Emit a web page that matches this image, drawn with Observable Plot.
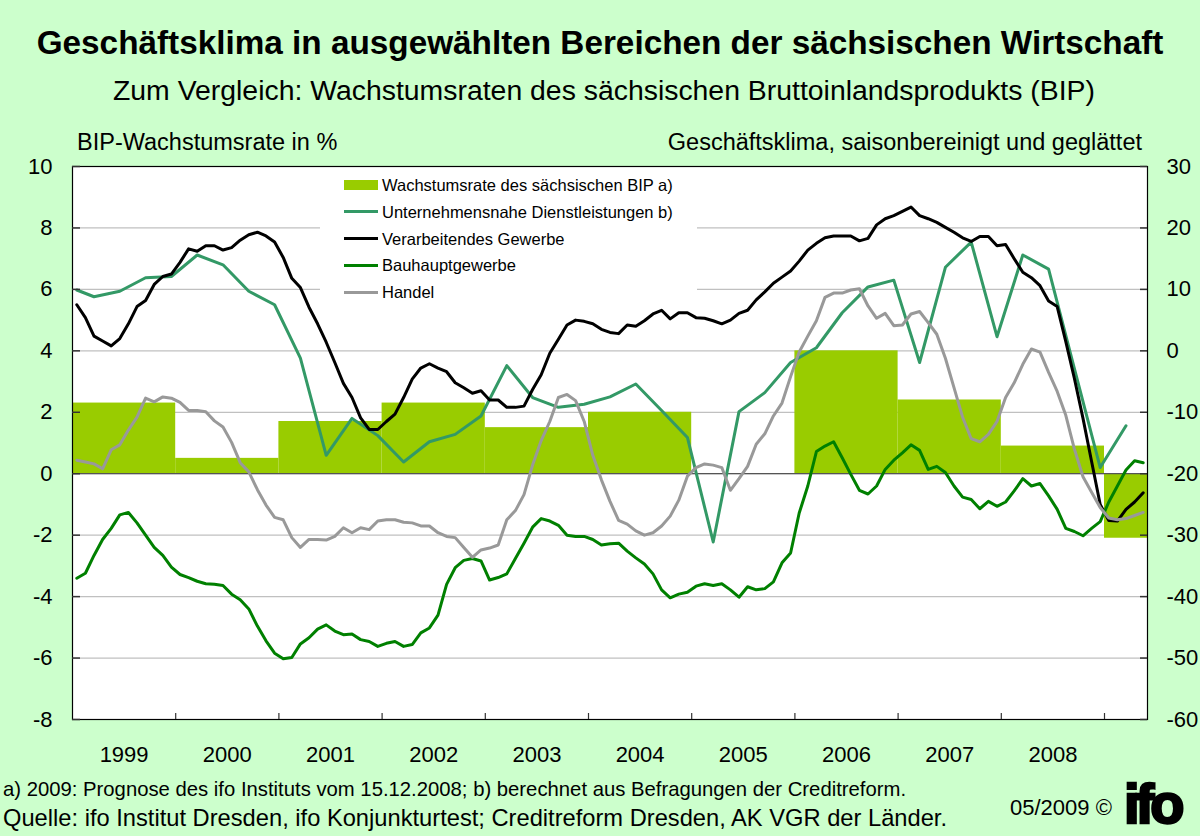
<!DOCTYPE html>
<html><head><meta charset="utf-8">
<script src="https://cdn.jsdelivr.net/npm/d3@7"></script>
<script src="https://cdn.jsdelivr.net/npm/@observablehq/plot@0.6"></script>
<style>
body{margin:0;background:#CCFFCC;}
#wrap{position:relative;width:1200px;height:836px;background:#CCFFCC;font-family:"Liberation Sans",Arial,sans-serif;color:#000;overflow:hidden}
.t{position:absolute;white-space:nowrap;line-height:1}
#chart{position:absolute;left:0;top:140px}
#legend{position:absolute;left:320px;top:168px;width:377px;height:137px;background:#fff}
.sw{position:absolute}
</style></head><body><div id="wrap">
<div id="chart"></div>
<div class="t" style="left:0;width:1200px;text-align:center;top:26px;font-size:33.3px;font-weight:bold">Geschäftsklima in ausgewählten Bereichen der sächsischen Wirtschaft</div>
<div class="t" style="left:4px;width:1200px;text-align:center;top:76px;font-size:28.4px">Zum Vergleich: Wachstumsraten des sächsischen Bruttoinlandsprodukts (BIP)</div>
<div class="t" style="left:77px;top:131px;font-size:23.5px">BIP-Wachstumsrate in %</div>
<div class="t" style="right:58px;top:131px;font-size:23.5px">Geschäftsklima, saisonbereinigt und geglättet</div>
<div id="legend"></div>
<div class="t" style="left:3px;top:779px;font-size:20.3px">a) 2009: Prognose des ifo Instituts vom 15.12.2008; b) berechnet aus Befragungen der Creditreform.</div>
<div class="t" style="left:3px;top:807px;font-size:23.7px">Quelle: ifo Institut Dresden, ifo Konjunkturtest; Creditreform Dresden, AK VGR der Länder.</div>
<div class="t" style="left:1010px;top:797px;font-size:22px">05/2009 ©</div>
<div class="t" style="left:1124px;top:776px;width:64px;font-size:56px;font-weight:bold;letter-spacing:-4px;-webkit-text-stroke:2.5px #000">ifo</div>
</div>
<script>
// ---- data ----
const years = [1999, 2000, 2001, 2002, 2003, 2004, 2005, 2006, 2007, 2008, 2009];
const bipGrowth = [2.3, 0.5, 1.7, 2.3, 1.5, 2.0, 0.0, 4.0, 2.4, 0.9, -2.1];
const yearLabels = ["1999","2000","2001","2002","2003","2004","2005","2006","2007","2008"];
const leftTicks = [-8, -6, -4, -2, 0, 2, 4, 6, 8, 10];
const rightTickLabels = ["-60","-50","-40","-30","-20","-10","0","10","20","30"];
// monthly series (Jan 1999 .. May 2009), Geschäftsklima (right axis)
const verarbeitendes = [7.5,5.4,2.4,1.6,0.8,2.0,4.4,7.2,8.2,10.8,
 12.1,12.5,14.4,16.6,16.2,17.1,17.1,16.4,16.8,18.0,
 18.9,19.3,18.7,17.7,15.2,11.8,10.3,7.1,4.4,1.4,
 -1.9,-5.3,-7.6,-10.9,-12.8,-12.8,-11.5,-10.3,-7.6,-4.6,
 -2.8,-2.1,-2.8,-3.4,-5.2,-6.0,-6.9,-6.5,-8.0,-8.0,
 -9.2,-9.2,-9.0,-6.3,-3.9,-0.4,1.9,4.2,5.0,4.8,
 4.4,3.5,3.0,2.8,4.2,4.0,4.9,6.0,6.6,5.2,
 6.2,6.2,5.4,5.3,4.9,4.4,5.0,6.1,6.6,8.3,
 9.6,11.0,12.0,13.0,14.6,16.4,17.5,18.4,18.7,18.7,
 18.7,17.9,18.3,20.5,21.5,22.0,22.7,23.4,22.0,21.5,
 20.9,20.1,19.3,18.4,17.8,18.6,18.6,17.1,17.3,15.0,
 12.8,11.9,10.6,8.1,7.2,1.5,-4.5,-11.0,-18.0,-25.0,
 -27.6,-27.7,-25.8,-24.6,-23.1];
const bauhaupt = [-37.0,-36.2,-33.3,-30.7,-28.9,-26.7,-26.3,-28.0,-30.0,-32.0,
 -33.3,-35.2,-36.4,-36.9,-37.5,-37.9,-38.0,-38.2,-39.6,-40.5,
 -42.0,-44.8,-47.2,-49.2,-50.1,-49.9,-47.7,-46.7,-45.3,-44.6,
 -45.6,-46.2,-46.1,-47.0,-47.3,-48.1,-47.6,-47.3,-48.1,-47.8,
 -45.9,-45.1,-43.0,-38.0,-35.3,-34.1,-33.8,-34.2,-37.3,-36.9,
 -36.3,-33.8,-31.3,-28.7,-27.3,-27.7,-28.4,-30.0,-30.2,-30.2,
 -30.7,-31.6,-31.4,-31.3,-32.6,-33.7,-34.7,-36.3,-38.9,-40.2,
 -39.6,-39.3,-38.3,-37.9,-38.2,-37.9,-38.9,-40.1,-38.4,-38.9,
 -38.7,-37.6,-34.5,-32.9,-26.4,-22.0,-16.4,-15.5,-14.8,-17.4,
 -20.1,-22.7,-23.3,-22.0,-19.3,-17.8,-16.6,-15.3,-16.2,-19.3,
 -18.8,-19.8,-22.0,-23.8,-24.2,-25.7,-24.5,-25.3,-24.6,-22.8,
 -20.8,-22.0,-21.6,-23.6,-25.8,-28.9,-29.4,-30.1,-28.9,-27.8,
 -24.6,-22.0,-19.4,-17.9,-18.2];
const handel = [-17.8,-18.1,-18.4,-19.2,-16.1,-15.3,-12.9,-10.8,-7.7,-8.3,
 -7.5,-7.7,-8.4,-9.7,-9.7,-9.9,-11.4,-12.4,-14.9,-18.2,
 -19.7,-22.6,-25.1,-27.1,-27.5,-30.4,-32.0,-30.7,-30.7,-30.8,
 -30.2,-28.8,-29.6,-28.8,-29.1,-27.7,-27.5,-27.5,-27.9,-28.0,
 -28.5,-28.5,-29.6,-30.2,-30.4,-32.0,-33.6,-32.4,-32.1,-31.6,
 -27.5,-26.0,-23.4,-18.6,-14.6,-11.5,-7.6,-7.1,-8.1,-11.5,
 -17.0,-21.0,-24.5,-27.6,-28.2,-29.3,-30.0,-29.6,-28.5,-26.9,
 -24.3,-20.4,-19.0,-18.4,-18.6,-19.0,-22.7,-20.8,-18.8,-15.2,
 -13.5,-10.6,-8.5,-4.2,-0.2,2.4,4.9,8.7,9.4,9.4,
 9.9,10.1,7.3,5.3,6.1,4.1,4.2,6.0,6.4,4.6,
 2.7,-1.2,-6.0,-10.8,-14.3,-14.8,-13.6,-11.5,-7.6,-5.2,
 -2.2,0.3,-0.2,-3.5,-6.6,-10.5,-16.0,-20.5,-23.0,-25.5,
 -27.2,-27.5,-27.3,-26.8,-26.3];
// quarterly survey (month index since Jan 1999)
const dienstMonths = [0,2,5,8,11,14,17,20,23,26,29,32,35,38,41,44,47,50,53,56,59,62,65,68,71,74,77,80,83,86,89,92,95,98,101,104,107,110,113,116,119,122];
const dienstValues = [9.9,8.8,9.7,11.9,12.1,15.6,14.0,9.7,7.5,-1.2,-17.0,-11.0,-13.8,-18.1,-14.8,-13.6,-10.6,-2.4,-7.6,-9.2,-8.7,-7.5,-5.4,-9.7,-14.1,-31.1,-9.9,-6.8,-1.9,0.5,6.2,10.4,11.5,-1.9,13.6,17.7,2.3,15.6,13.3,-2.9,-19.0,-12.2];

const seriesNames = ["Wachstumsrate des sächsischen BIP a)","Unternehmensnahe Dienstleistungen b)","Verarbeitendes Gewerbe","Bauhauptgewerbe","Handel"];
const seriesColors = ["#99CC00","#339966","#000000","#008000","#999999"];

// ---- build ----
const xStart = 1999, xEnd = 2009 + 5/12;
const monthX = m => xStart + (m + 0.5) / 12;
const klimaToLeft = r => (r + 20) / 5;

const bars = years.map((y, i) => ({x1: y, x2: Math.min(y + 1, xEnd), v: bipGrowth[i]}));
const monthly = (arr) => arr.map((r, m) => ({x: monthX(m), y: klimaToLeft(r)}));
const dienst = dienstMonths.map((m, i) => ({x: monthX(m), y: klimaToLeft(dienstValues[i])}));
const lines = [
  {data: dienst, color: seriesColors[1]},
  {data: monthly(verarbeitendes), color: seriesColors[2]},
  {data: monthly(bauhaupt), color: seriesColors[3]},
  {data: monthly(handel), color: seriesColors[4]}
];
const yearCenters = yearLabels.map(s => +s + 0.5);
const boundaries = years.slice(1);

const W = 1200, H = 640, mL = 72, mR = 53, mT = 26, mB = 61;
const innerW = W - mL - mR, innerH = H - mT - mB;

const plot = Plot.plot({
  width: W, height: H,
  marginLeft: mL, marginRight: mR, marginTop: mT, marginBottom: mB,
  style: {background: "transparent", fontFamily: "Liberation Sans, Arial, sans-serif", fontSize: "22px", color: "#000"},
  x: {domain: [xStart, xEnd]},
  y: {domain: [-8, 10]},
  marks: [
    Plot.frame({fill: "#ffffff", stroke: null}),
    Plot.ruleY(leftTicks.filter(v => v > -8 && v < 10), {stroke: "#c0c0c0", strokeWidth: 1.2}),
    Plot.rect(bars, {x1: "x1", x2: "x2", y1: 0, y2: "v", fill: seriesColors[0]}),
    Plot.ruleY([0], {stroke: "#555555", strokeWidth: 1.3}),
    ...lines.map(l => Plot.line(l.data, {x: "x", y: "y", stroke: l.color, strokeWidth: 3, strokeLinejoin: "round", strokeLinecap: "round"})),
    Plot.frame({stroke: "#000", strokeWidth: 1.2}),
    Plot.tickY(leftTicks, {y: d => d, insetRight: innerW - 8, stroke: "#333", strokeWidth: 1.5}),
    Plot.tickY(leftTicks, {y: d => d, insetLeft: innerW - 7, stroke: "#333", strokeWidth: 1.5}),
    Plot.tickX(boundaries, {x: d => d, insetTop: innerH - 6, stroke: "#333", strokeWidth: 1.2}),
    Plot.axisY({anchor: "left", ticks: leftTicks, tickFormat: d => String(d), tickSize: 0, tickPadding: 20, label: null, fontSize: 22, fill: "#000"}),
    Plot.axisY({anchor: "right", ticks: leftTicks, tickFormat: d => rightTickLabels[leftTicks.indexOf(d)], tickSize: 0, tickPadding: 19, label: null, fontSize: 22, fill: "#000"}),
    Plot.axisX({ticks: yearCenters, tickFormat: d => String(Math.floor(d)), tickSize: 0, tickPadding: 27, label: null, fontSize: 22, fill: "#000"})
  ]
});
document.getElementById("chart").appendChild(plot);

// legend
const lg = document.getElementById("legend");
seriesNames.forEach((name, i) => {
  const cy = 185 + 26.8 * i - 168;
  const sw = document.createElement("div");
  sw.className = "sw";
  sw.style.left = "24px"; sw.style.width = "34px";
  sw.style.background = seriesColors[i];
  if (i === 0) { sw.style.top = (cy - 5) + "px"; sw.style.height = "10px"; }
  else { sw.style.top = (cy - 1.5) + "px"; sw.style.height = "3px"; }
  lg.appendChild(sw);
  const tx = document.createElement("div");
  tx.className = "t";
  tx.style.left = "62px"; tx.style.top = (cy - 8.1) + "px"; tx.style.fontSize = "16.5px";
  tx.textContent = name;
  lg.appendChild(tx);
});
</script>
</body></html>
